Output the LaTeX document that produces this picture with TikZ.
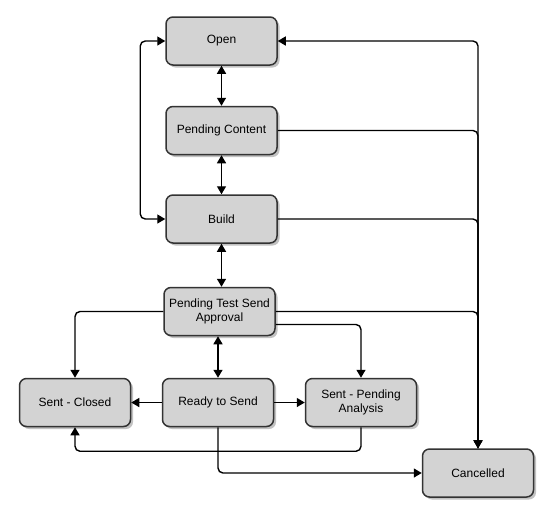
\documentclass[tikz,border=0pt]{standalone}
\usepackage{fontspec}
\setmainfont{Liberation Sans}
\usetikzlibrary{arrows.meta,shadows}
\definecolor{boxfill}{HTML}{D3D3D3}
\definecolor{boxline}{HTML}{333333}
\tikzset{
  state/.style={draw=boxline, line width=1.5pt, fill=boxfill, rounded corners=7pt,
    minimum width=111pt, minimum height=48pt, inner sep=2pt, align=center,
    font=\fontsize{12}{14}\selectfont,
    drop shadow={shadow xshift=2.5pt, shadow yshift=-2.5pt, opacity=0.4, fill=black!60}},
  conn/.style={line width=1.4pt, rounded corners=5pt},
  arr/.style={conn, -{Triangle[length=8pt,width=9pt]}},
  arrb/.style={conn, {Triangle[length=8pt,width=9pt]}-{Triangle[length=8pt,width=9pt]}},
}
\begin{document}
\begin{tikzpicture}[x=1pt,y=-1pt]
\useasboundingbox (0,0) rectangle (553,520);
\node[state] (open) at (221.5,41) {Open};
\node[state] (pc) at (221.5,130.5) {Pending Content};
\node[state] (build) at (221.5,219) {Build};
\node[state] (ptsa) at (219.5,311.5) {Pending Test Send\\Approval};
\node[state] (sc) at (75,402.5) {Sent - Closed};
\node[state] (rts) at (218,402.5) {Ready to Send};
\node[state] (spa) at (361,402.5) {Sent - Pending\\Analysis};
\node[state] (canc) at (478,473) {Cancelled};

\draw[arrb] (open.south) -- (pc.north);
\draw[arrb] (pc.south) -- (build.north);
\draw[arrb] (build.south) -- (build.south |- ptsa.north);
\draw[arrb] (rts.north) -- (rts.north |- ptsa.south);
\draw[arrb] (open.west) -- ++(-25,0) |- (build.west);

\draw[arr] (canc.north) |- (open.east);
\draw[arr] (pc.east) -| (canc.north);
\draw[arr] (build.east) -| (canc.north);
\draw[arr] (ptsa.east) -| (canc.north);
\draw[arr] ([yshift=-13pt]ptsa.east) -| (spa.north);
\draw[arr] (ptsa.west) -| (sc.north);
\draw[arr] (rts.west) -- (sc.east);
\draw[arr] (rts.east) -- (spa.west);
\draw[arr] (spa.south) -- ++(0,24) -| (sc.south);
\draw[arr] (rts.south) |- (canc.west);
\end{tikzpicture}
\end{document}
